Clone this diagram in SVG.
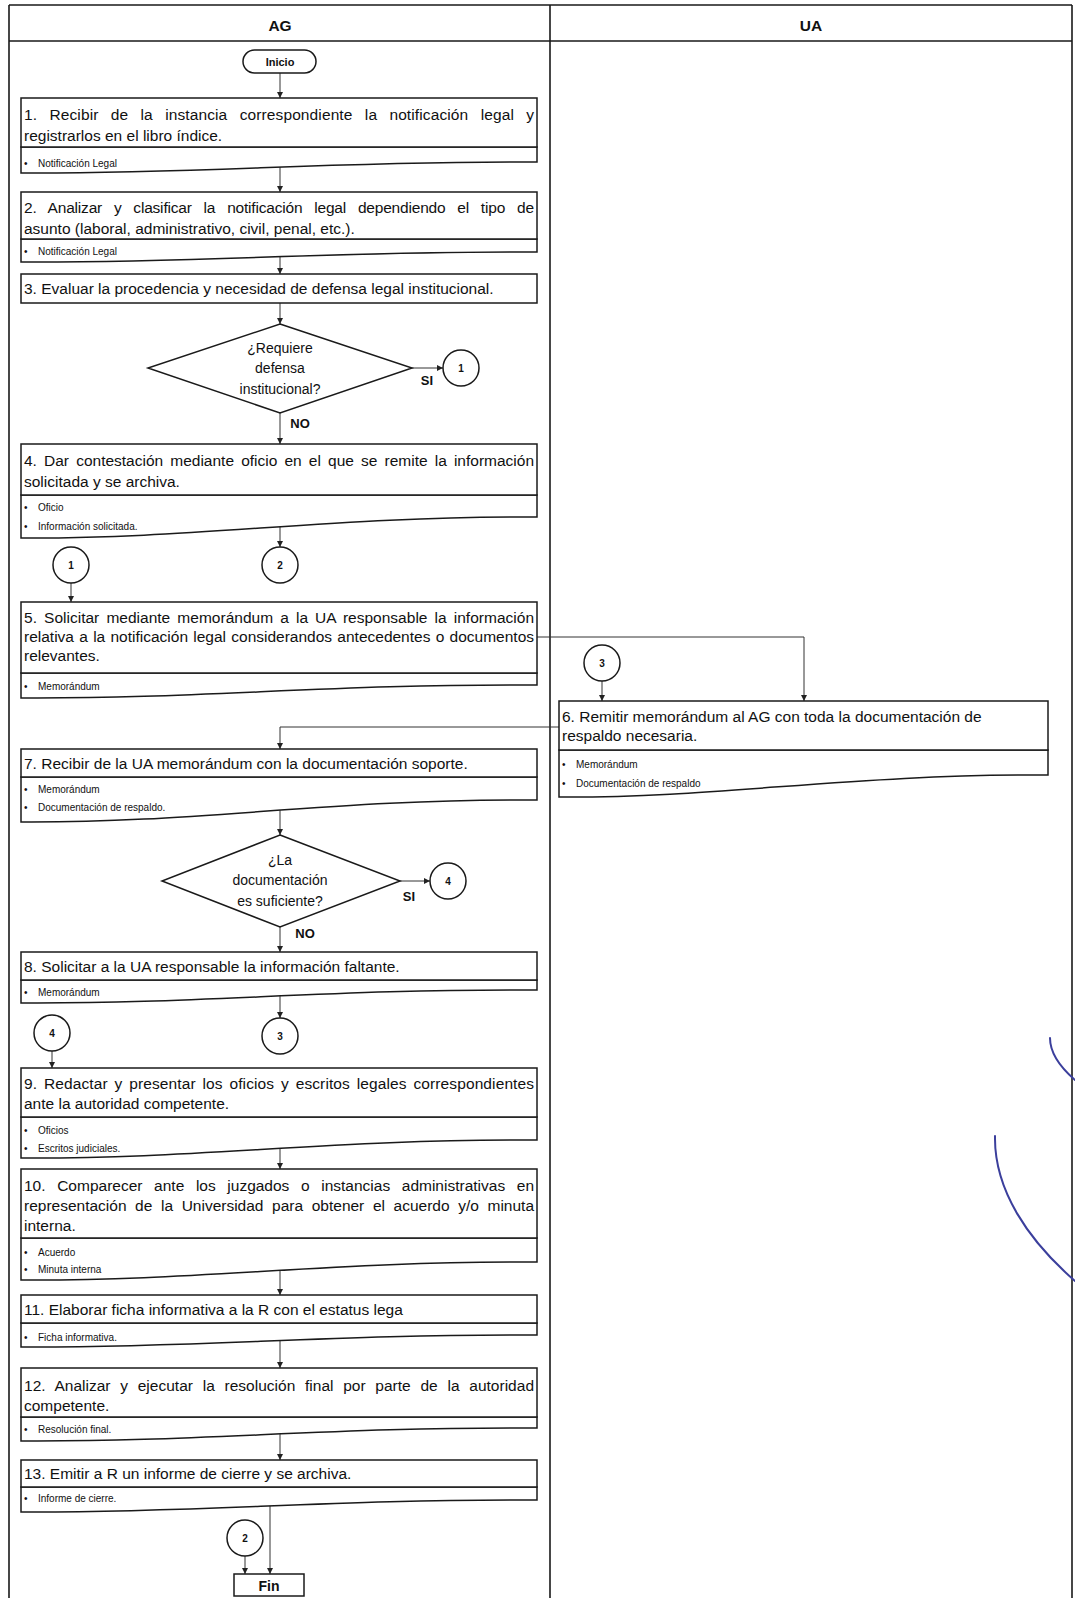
<svg xmlns="http://www.w3.org/2000/svg" width="1075" height="1598" viewBox="0 0 1075 1598">
  <defs>
    <marker id="arr" viewBox="0 0 10 10" refX="10" refY="5" markerWidth="6" markerHeight="6" markerUnits="userSpaceOnUse" orient="auto">
      <path d="M0,0 L10,5 L0,10 z" fill="#222"/>
    </marker>
  </defs>
  <style>
    .frame{fill:none;stroke:#1a1a1a;stroke-width:1.6}
    .box{fill:#fff;stroke:#1a1a1a;stroke-width:1.5}
    .conn{fill:none;stroke:#333;stroke-width:1;marker-end:url(#arr)}
    .plain{fill:none;stroke:#333;stroke-width:1}
    .t{font-family:"Liberation Sans",Arial,sans-serif;font-size:15.5px;fill:#111}
    .d{font-family:"Liberation Sans",Arial,sans-serif;font-size:10px;fill:#111}
    .q{font-family:"Liberation Sans",Arial,sans-serif;font-size:14px;fill:#111;text-anchor:middle}
    .b{font-family:"Liberation Sans",Arial,sans-serif;font-weight:bold;fill:#111;text-anchor:middle}
    .pen{fill:none;stroke:#3b3f9c;stroke-width:2;stroke-linecap:round}
  </style>

  <rect width="1075" height="1598" fill="#fff"/>

  <!-- swimlane frame -->
  <g id="lanes">
    <path class="frame" d="M9,5 H1072 M9,41 H1072 M9,5 V1598 M550,5 V1598 M1072,5 V1598"/>
    <text class="b" x="280" y="31" font-size="15.5">AG</text>
    <text class="b" x="811" y="31" font-size="15.5">UA</text>
  </g>

  <!-- connectors -->
  <g id="connectors">
    <path class="conn" d="M280,65 V98"/>
    <path class="conn" d="M280,160 V192"/>
    <path class="conn" d="M280,250 V274"/>
    <path class="conn" d="M280,295 V324"/>
    <path class="conn" d="M280,400 V444"/>
    <path class="conn" d="M400,368 H443"/>
    <path class="conn" d="M280,520 V547"/>
    <path class="conn" d="M71,570 V602"/>
    <path class="plain" d="M530,637 H804"/>
    <path class="conn" d="M804,637 V701"/>
    <path class="conn" d="M602,670 V701"/>
    <path class="plain" d="M565,727 H280"/>
    <path class="conn" d="M280,727 V749"/>
    <path class="conn" d="M280,805 V835"/>
    <path class="conn" d="M390,881 H430"/>
    <path class="conn" d="M280,915 V952"/>
    <path class="conn" d="M280,990 V1018"/>
    <path class="conn" d="M52,1040 V1068"/>
    <path class="conn" d="M280,1140 V1169"/>
    <path class="conn" d="M280,1265 V1295"/>
    <path class="conn" d="M280,1335 V1368"/>
    <path class="conn" d="M280,1430 V1460"/>
    <path class="conn" d="M270,1500 V1574"/>
    <path class="conn" d="M245,1545 V1574"/>
  </g>

  <!-- start -->
  <g id="inicio">
    <rect class="box" x="243" y="50" width="73" height="23" rx="11.5"/>
    <text class="b" x="280" y="65.5" font-size="11">Inicio</text>
  </g>

  <!-- step 1 -->
  <g id="step1">
    <path class="box" d="M21,147 H537 V162 C330,161 200,174 21,173 Z"/>
    <rect class="box" x="21" y="98" width="516" height="49"/>
    <text class="t" x="24" y="120" word-spacing="7.86" textLength="510" lengthAdjust="spacing">1. Recibir de la instancia correspondiente la notificación legal y</text>
    <text class="t" x="24" y="141">registrarlos en el libro índice.</text>
    <text class="d" x="24" y="166.5">•</text><text class="d" x="38" y="166.5">Notificación Legal</text>
  </g>

  <!-- step 2 -->
  <g id="step2">
    <path class="box" d="M21,239 H537 V252 C330,251 200,263 21,262 Z"/>
    <rect class="box" x="21" y="192" width="516" height="47"/>
    <text class="t" x="24" y="213" word-spacing="7.77" textLength="510" lengthAdjust="spacing">2. Analizar y clasificar la notificación legal dependiendo el tipo de</text>
    <text class="t" x="24" y="234">asunto (laboral, administrativo, civil, penal, etc.).</text>
    <text class="d" x="24" y="254.5">•</text><text class="d" x="38" y="254.5">Notificación Legal</text>
  </g>

  <!-- step 3 -->
  <g id="step3">
    <rect class="box" x="21" y="274" width="516" height="29"/>
    <text class="t" x="24" y="293.5">3. Evaluar la procedencia y necesidad de defensa legal institucional.</text>
  </g>

  <!-- decision 1 -->
  <g id="decision1">
    <polygon class="box" points="280,324 412,368 280,413 148,368"/>
    <text class="q" x="280" y="352.5">¿Requiere</text>
    <text class="q" x="280" y="372.5">defensa</text>
    <text class="q" x="280" y="393.5">institucional?</text>
    <text class="b" x="427" y="385" font-size="13">SI</text>
    <text class="b" x="300" y="428" font-size="13">NO</text>
  </g>

  <g id="c1a">
    <circle class="box" cx="461" cy="368" r="18"/>
    <text class="b" x="461" y="372" font-size="10">1</text>
  </g>

  <!-- step 4 -->
  <g id="step4">
    <path class="box" d="M21,495 H537 V517 C330,516 200,539 21,538 Z"/>
    <rect class="box" x="21" y="444" width="516" height="51"/>
    <text class="t" x="24" y="466" word-spacing="2.82" textLength="510" lengthAdjust="spacing">4. Dar contestación mediante oficio en el que se remite la información</text>
    <text class="t" x="24" y="487">solicitada y se archiva.</text>
    <text class="d" x="24" y="510.5">•</text><text class="d" x="38" y="510.5">Oficio</text>
    <text class="d" x="24" y="529.5">•</text><text class="d" x="38" y="529.5">Información solicitada.</text>
  </g>

  <g id="c1b">
    <circle class="box" cx="71" cy="565" r="18"/>
    <text class="b" x="71" y="569" font-size="10">1</text>
  </g>
  <g id="c2a">
    <circle class="box" cx="280" cy="565" r="18"/>
    <text class="b" x="280" y="569" font-size="10">2</text>
  </g>

  <!-- step 5 -->
  <g id="step5">
    <path class="box" d="M21,673 H537 V685 C330,684 200,699 21,698 Z"/>
    <rect class="box" x="21" y="602" width="516" height="71"/>
    <text class="t" x="24" y="623" word-spacing="2.78" textLength="510" lengthAdjust="spacing">5. Solicitar mediante memorándum a la UA responsable la información</text>
    <text class="t" x="24" y="642" word-spacing="0.96" textLength="510" lengthAdjust="spacing">relativa a la notificación legal considerandos antecedentes o documentos</text>
    <text class="t" x="24" y="661">relevantes.</text>
    <text class="d" x="24" y="689.5">•</text><text class="d" x="38" y="689.5">Memorándum</text>
  </g>

  <g id="c3a">
    <circle class="box" cx="602" cy="663" r="18"/>
    <text class="b" x="602" y="667" font-size="10">3</text>
  </g>

  <!-- step 6 -->
  <g id="step6">
    <path class="box" d="M559,750 H1048 V775 C850,774 720,798 559,797 Z"/>
    <rect class="box" x="559" y="701" width="489" height="49"/>
    <text class="t" x="562" y="722">6. Remitir memorándum al AG con toda la documentación de</text>
    <text class="t" x="562" y="741">respaldo necesaria.</text>
    <text class="d" x="562" y="767.5">•</text><text class="d" x="576" y="767.5">Memorándum</text>
    <text class="d" x="562" y="786.5">•</text><text class="d" x="576" y="786.5">Documentación de respaldo</text>
  </g>

  <!-- step 7 -->
  <g id="step7">
    <path class="box" d="M21,777 H537 V800 C330,799 200,823 21,822 Z"/>
    <rect class="box" x="21" y="749" width="516" height="28"/>
    <text class="t" x="24" y="768.5">7. Recibir de la UA memorándum con la documentación soporte.</text>
    <text class="d" x="24" y="792.5">•</text><text class="d" x="38" y="792.5">Memorándum</text>
    <text class="d" x="24" y="810.5">•</text><text class="d" x="38" y="810.5">Documentación de respaldo.</text>
  </g>

  <!-- decision 2 -->
  <g id="decision2">
    <polygon class="box" points="280,835 400,881 280,927 162,881"/>
    <text class="q" x="280" y="864.5">¿La</text>
    <text class="q" x="280" y="884.5">documentación</text>
    <text class="q" x="280" y="905.5">es suficiente?</text>
    <text class="b" x="409" y="901" font-size="13">SI</text>
    <text class="b" x="305" y="938" font-size="13">NO</text>
  </g>

  <g id="c4a">
    <circle class="box" cx="448" cy="881" r="18"/>
    <text class="b" x="448" y="885" font-size="10">4</text>
  </g>

  <!-- step 8 -->
  <g id="step8">
    <path class="box" d="M21,980 H537 V990 C330,989 200,1004 21,1003 Z"/>
    <rect class="box" x="21" y="952" width="516" height="28"/>
    <text class="t" x="24" y="971.5">8. Solicitar a la UA responsable la información faltante.</text>
    <text class="d" x="24" y="995.5">•</text><text class="d" x="38" y="995.5">Memorándum</text>
  </g>

  <g id="c4b">
    <circle class="box" cx="52" cy="1033" r="18"/>
    <text class="b" x="52" y="1037" font-size="10">4</text>
  </g>
  <g id="c3b">
    <circle class="box" cx="280" cy="1036" r="18"/>
    <text class="b" x="280" y="1040" font-size="10">3</text>
  </g>

  <!-- step 9 -->
  <g id="step9">
    <path class="box" d="M21,1117 H537 V1140 C330,1139 200,1159 21,1158 Z"/>
    <rect class="box" x="21" y="1068" width="516" height="49"/>
    <text class="t" x="24" y="1088.5" word-spacing="2.4" textLength="510" lengthAdjust="spacing">9. Redactar y presentar los oficios y escritos legales correspondientes</text>
    <text class="t" x="24" y="1109">ante la autoridad competente.</text>
    <text class="d" x="24" y="1133.5">•</text><text class="d" x="38" y="1133.5">Oficios</text>
    <text class="d" x="24" y="1151.5">•</text><text class="d" x="38" y="1151.5">Escritos judiciales.</text>
  </g>

  <!-- step 10 -->
  <g id="step10">
    <path class="box" d="M21,1238 H537 V1262 C330,1261 200,1281 21,1280 Z"/>
    <rect class="box" x="21" y="1169" width="516" height="69"/>
    <text class="t" x="24" y="1191" word-spacing="7.33" textLength="510" lengthAdjust="spacing">10. Comparecer ante los juzgados o instancias administrativas en</text>
    <text class="t" x="24" y="1211" word-spacing="4.31" textLength="510" lengthAdjust="spacing">representación de la Universidad para obtener el acuerdo y/o minuta</text>
    <text class="t" x="24" y="1231">interna.</text>
    <text class="d" x="24" y="1255.5">•</text><text class="d" x="38" y="1255.5">Acuerdo</text>
    <text class="d" x="24" y="1272.5">•</text><text class="d" x="38" y="1272.5">Minuta interna</text>
  </g>

  <!-- step 11 -->
  <g id="step11">
    <path class="box" d="M21,1323 H537 V1335 C330,1334 200,1348 21,1347 Z"/>
    <rect class="box" x="21" y="1295" width="516" height="28"/>
    <text class="t" x="24" y="1314.5">11. Elaborar ficha informativa a la R con el estatus lega</text>
    <text class="d" x="24" y="1340.5">•</text><text class="d" x="38" y="1340.5">Ficha informativa.</text>
  </g>

  <!-- step 12 -->
  <g id="step12">
    <path class="box" d="M21,1417 H537 V1428 C330,1427 200,1442 21,1441 Z"/>
    <rect class="box" x="21" y="1368" width="516" height="49"/>
    <text class="t" x="24" y="1391" word-spacing="5.4" textLength="510" lengthAdjust="spacing">12. Analizar y ejecutar la resolución final por parte de la autoridad</text>
    <text class="t" x="24" y="1411">competente.</text>
    <text class="d" x="24" y="1432.5">•</text><text class="d" x="38" y="1432.5">Resolución final.</text>
  </g>

  <!-- step 13 -->
  <g id="step13">
    <path class="box" d="M21,1487 H537 V1500 C330,1499 200,1513 21,1512 Z"/>
    <rect class="box" x="21" y="1460" width="516" height="27"/>
    <text class="t" x="24" y="1478.5">13. Emitir a R un informe de cierre y se archiva.</text>
    <text class="d" x="24" y="1501.5">•</text><text class="d" x="38" y="1501.5">Informe de cierre.</text>
  </g>

  <g id="c2b">
    <circle class="box" cx="245" cy="1538" r="18"/>
    <text class="b" x="245" y="1542" font-size="10">2</text>
  </g>

  <!-- end -->
  <g id="fin">
    <rect class="box" x="234" y="1574" width="70" height="22"/>
    <text class="b" x="269" y="1590.5" font-size="14">Fin</text>
  </g>

  <!-- pen strokes in the margin -->
  <path class="pen" d="M1050,1038 C1050,1054 1060,1067 1075,1080"/>
  <path class="pen" d="M995,1136 C994,1190 1028,1240 1075,1281"/>
</svg>
